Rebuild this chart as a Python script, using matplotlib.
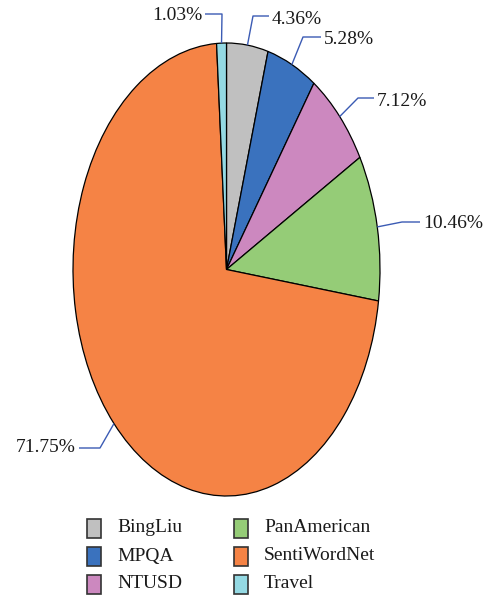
import numpy as np
import matplotlib.pyplot as plt
from matplotlib.patches import Rectangle

plt.rcParams['font.family'] = ['Liberation Serif', 'DejaVu Serif']

lexicons = ['BingLiu', 'MPQA', 'NTUSD', 'PanAmerican', 'SentiWordNet', 'Travel']
shares = [4.36, 5.28, 7.12, 10.46, 71.75, 1.03]
colors = ['#c0c0c0', '#3a72be', '#cc88bf', '#95cc77', '#f58345', '#94d9e3']

# label text anchor and leader elbow, in pixels (x, y from top)
label_pos = [(272, 20), (324, 40), (377, 101), (423, 223), (76, 448), (202, 16)]
label_ha = ['left', 'left', 'left', 'left', 'right', 'right']
elbows = [(253, 16), (303, 37), (358, 98), (402, 222), (100, 448), (222, 14)]

W, H = 489, 595
cx, cy, rx, ry = 226.5, 269.5, 153.5, 226.5
lead_color = '#3b5bb4'

fig = plt.figure(figsize=(W / 100, H / 100), dpi=100)

# elliptical pie: circular pie stretched by an axes with free aspect
pie_ax = fig.add_axes([(cx - rx) / W, (H - cy - ry) / H, 2 * rx / W, 2 * ry / H])
wedges, _ = pie_ax.pie(shares, colors=colors, startangle=90, counterclock=False,
                       wedgeprops=dict(edgecolor='black', linewidth=0.9))
pie_ax.set_aspect('auto')
pie_ax.set_xlim(-1, 1)
pie_ax.set_ylim(-1, 1)
pie_ax.axis('off')

# overlay in pixel coordinates for leaders, labels and legend
ov = fig.add_axes([0, 0, 1, 1], zorder=2)
ov.set_xlim(0, W)
ov.set_ylim(H, 0)
ov.axis('off')

start = 90.0
for val, (tx, ty), ha, (ex, ey) in zip(shares, label_pos, label_ha, elbows):
    mid = np.deg2rad(start - val * 3.6 / 2)
    start -= val * 3.6
    px = cx + rx * np.cos(mid)
    py = cy - ry * np.sin(mid)
    end_x = tx - 3 if ha == 'left' else tx + 3
    ov.plot([px, ex, end_x], [py, ey, ey], color=lead_color, lw=1.0,
            solid_capstyle='butt')
    ov.text(tx, ty, f'{val:.2f}%', ha=ha, va='center', fontsize=14,
            color='#1a1a1a')

# legend, filled column by column
for i, (name, col) in enumerate(zip(lexicons, colors)):
    c, r = divmod(i, 3)
    x0 = 87 + c * 147
    yc = 528 + r * 28
    ov.add_patch(Rectangle((x0, yc - 9.5), 14, 19, facecolor=col,
                           edgecolor='#333333', lw=1.2))
    ov.text(x0 + 30, yc, name, ha='left', va='center', fontsize=14,
            color='#1a1a1a')

fig.savefig('out.png', dpi=100)
